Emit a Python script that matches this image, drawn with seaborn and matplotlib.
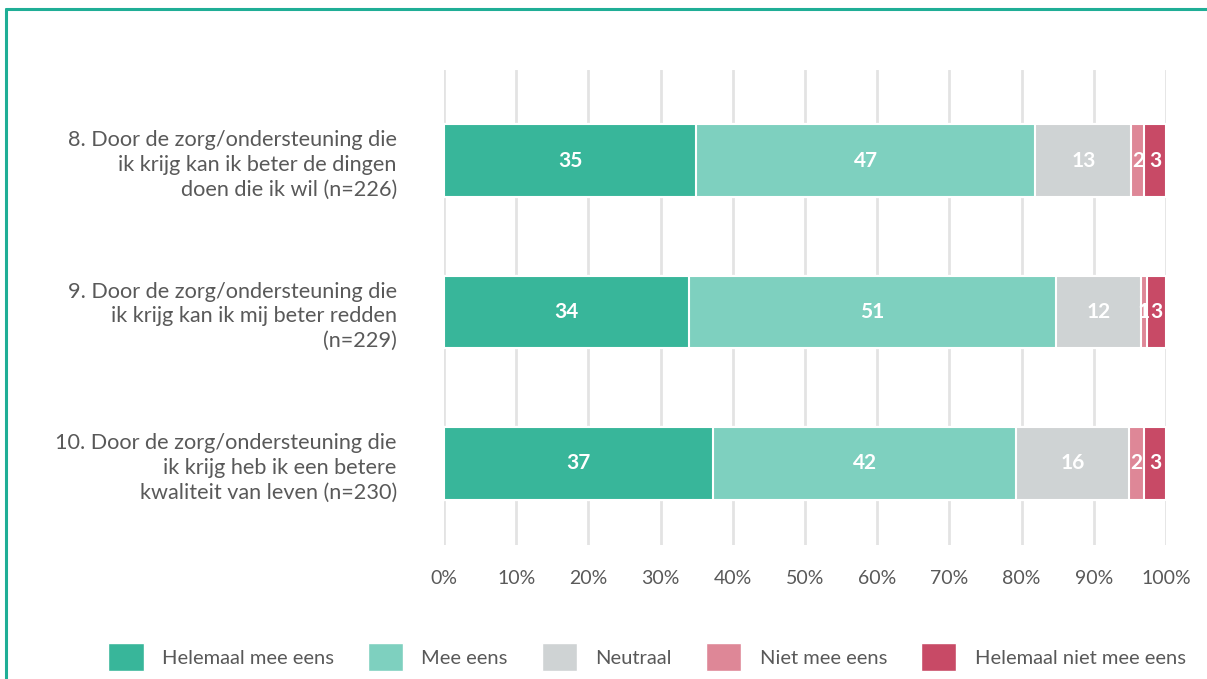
import numpy as np
import pandas as pd
import matplotlib
matplotlib.use("Agg")
import matplotlib.pyplot as plt
from matplotlib.lines import Line2D
from matplotlib.patches import Patch
import seaborn as sns

# Statements (y axis)
statements = [
    "8. Door de zorg/ondersteuning die\nik krijg kan ik beter de dingen\ndoen die ik wil (n=226)",
    "9. Door de zorg/ondersteuning die\nik krijg kan ik mij beter redden\n(n=229)",
    "10. Door de zorg/ondersteuning die\nik krijg heb ik een betere\nkwaliteit van leven (n=230)",
]
answers = ["Helemaal mee eens", "Mee eens", "Neutraal", "Niet mee eens", "Helemaal niet mee eens"]

# Percentages per answer
helemaal_mee_eens = [34.9, 33.9, 37.3]
mee_eens = [47.0, 50.9, 41.9]
neutraal = [13.3, 11.7, 15.7]
niet_mee_eens = [1.8, 0.9, 2.1]
helemaal_niet = [3.0, 2.6, 3.0]

# Labels shown in the bars
labels = [
    [35, 47, 13, 2, 3],
    [34, 51, 12, 1, 3],
    [37, 42, 16, 2, 3],
]

colors = ["#38B69A", "#7ED0BF", "#CFD3D4", "#DE8797", "#C84A66"]
text_color = "#595959"

sns.set_theme(style="white")
plt.rcParams["font.family"] = ["Lato", "DejaVu Sans"]

df = pd.DataFrame({
    "statement": statements,
    answers[0]: helemaal_mee_eens,
    answers[1]: mee_eens,
    answers[2]: neutraal,
    answers[3]: niet_mee_eens,
    answers[4]: helemaal_niet,
})
cum = df[answers].cumsum(axis=1)
cum["statement"] = df["statement"]

fig = plt.figure(figsize=(12.07, 6.79), dpi=100)
ax = fig.add_axes([444 / 1207, 1 - 545 / 679, 722 / 1207, 475 / 679])

# stacked bars: draw cumulative totals from the last answer back to the first
for ans, col in reversed(list(zip(answers, colors))):
    sns.barplot(data=cum, x=ans, y="statement", orient="h", color=col,
                saturation=1, width=0.48, edgecolor="white", linewidth=1.5,
                ax=ax, zorder=3)

# value labels
for i in range(len(statements)):
    vals = df[answers].iloc[i].values
    starts = np.concatenate([[0], np.cumsum(vals)[:-1]])
    for j, (s, v) in enumerate(zip(starts, vals)):
        ax.text(s + v / 2, i, str(labels[i][j]), ha="center", va="center",
                color="white", fontsize=15, fontweight="bold", zorder=5)

ax.set_xlim(0, 100)
ax.set_ylim(2.54, -0.6)
ax.set_xticks(np.arange(0, 101, 10))
ax.set_xticklabels([f"{t}%" for t in range(0, 101, 10)])
ax.xaxis.grid(True, color="#E3E3E3", linewidth=2, zorder=0)
ax.set_axisbelow(True)
ax.set_xlabel("")
ax.set_ylabel("")
for sp in ax.spines.values():
    sp.set_visible(False)
ax.tick_params(axis="x", length=0, pad=18, labelsize=14, labelcolor=text_color)
ax.tick_params(axis="y", length=0, pad=34, labelsize=15.6, labelcolor=text_color)
for lab in ax.get_yticklabels():
    lab.set_horizontalalignment("right")
    lab.set_multialignment("right")
    lab.set_linespacing(1.3)

handles = [Patch(facecolor=c, edgecolor="white", label=a) for a, c in zip(answers, colors)]
fig.legend(handles=handles, loc="center", bbox_to_anchor=(647 / 1207, 1 - 657 / 679),
           ncol=5, frameon=False, fontsize=14.5, handlelength=1.75, handleheight=1.75,
           handletextpad=0.9, columnspacing=1.7, labelcolor=text_color)

# teal frame lines (top and left)
fig.add_artist(Line2D([6 / 1207, 1], [1 - 9 / 679, 1 - 9 / 679], color="#1FAE96", linewidth=2.2))
fig.add_artist(Line2D([6 / 1207, 6 / 1207], [0, 1 - 9 / 679], color="#1FAE96", linewidth=2.2))

fig.savefig("out.png", dpi=100)
